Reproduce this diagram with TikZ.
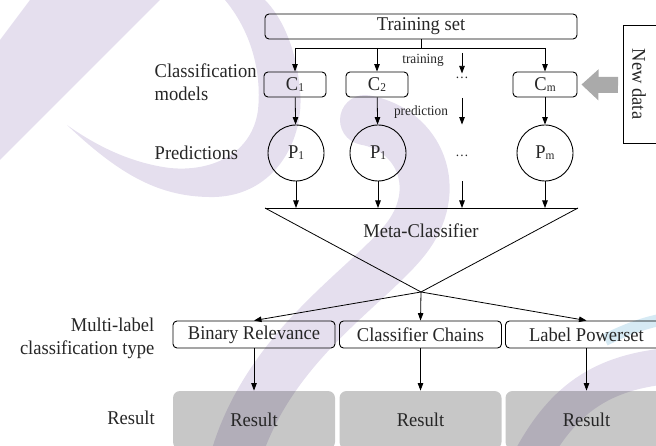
\documentclass[tikz,border=0pt]{standalone}
\usepackage{fontspec}
\setmainfont{Liberation Serif}[FakeStretch=0.95]
\usetikzlibrary{arrows.meta}
\definecolor{wmark}{RGB}{229,223,238}
\definecolor{wcyan}{RGB}{214,234,244}
\definecolor{blockgray}{RGB}{170,170,170}
\newcommand{\idx}[1]{\raisebox{-1pt}{\fontsize{12}{12}\selectfont #1}}
\tikzset{
  box/.style={draw, rounded corners=4pt, line width=0.9pt, inner sep=0pt, minimum height=25pt},
  typebox/.style={box, minimum width=162pt, minimum height=27pt},
  resbox/.style={fill=black, fill opacity=0.22, text opacity=1, rounded corners=7pt, minimum width=162pt, minimum height=58pt},
  pred/.style={draw, circle, line width=0.9pt, minimum size=56pt, inner sep=0pt},
  small/.style={font=\fontsize{14}{16}\selectfont},
  newarrow/.style={blockgray, line width=16pt, -{Triangle[length=17pt,width=30pt]}},
}

\begin{document}
\begin{tikzpicture}[x=1pt, y=-1pt, line width=0.8pt, >={Triangle[length=7.5pt,width=5.5pt]},
    font=\fontsize{19.5}{23}\selectfont, text=black!85] %[scale=0.8]
    \useasboundingbox (0,0) rectangle (656,446);
    % watermark
    \fill[wmark] (30,0) -- (160,0) -- (0,160) -- (0,40) -- cycle;
    \fill[wmark] (67,125) .. controls (120,175) and (160,198) .. (215,197)
      .. controls (275,195) and (305,140) .. (300,90) .. controls (296,45) and (280,15) .. (265,0)
      -- (225,0) .. controls (250,30) and (262,70) .. (258,110)
      .. controls (252,155) and (210,172) .. (170,168) .. controls (130,163) and (95,145) .. (67,125) -- cycle;
    \draw[wmark, line width=50pt, line cap=round] (365,120) .. controls (420,130) and (445,190) .. (405,240)
      .. controls (365,290) and (262,350) .. (232,470);
    \draw[wmark, line width=36pt] (525,470) .. controls (560,400) and (600,370) .. (680,365);
    \draw[wcyan, line width=12pt] (605,340) .. controls (625,330) and (645,322) .. (670,318);

    \node[box, minimum width=312pt] (ts) at (421,26.5) {Training set};
    \node[box, minimum width=62pt] (c1) at (295,84.5) {C\idx{1}};
    \node[box, minimum width=62pt] (c2) at (377,84.5) {C\idx{2}};
    \node[box, minimum width=64pt] (cm) at (545,84.5) {C\idx{m}};
    \node[small] (cd) at (462,78) {\ldots};
    \node[small] (trlab) at (423,60) {training};
    \node[small] (prlab) at (421,112) {prediction};
    \node[pred] (p1) at (296,153) {P\idx{1}};
    \node[pred] (p2) at (378,153) {P\idx{1}};
    \node[small] (pd) at (462,156) {\ldots};
    \node[pred] (pm) at (545,153) {P\idx{m}};
    \node (mc) at (421,231) {Meta-Classifier};
    \node[typebox] (br) at (254,334.5) {Binary Relevance};
    \node[typebox] (cc) at (420.5,334.5) {Classifier Chains};
    \node[typebox] (lp) at (586.5,334.5) {Label Powerset};
    \node[resbox] (r1) at (254,420) {Result};
    \node[resbox] (r2) at (420.5,420) {Result};
    \node[resbox] (r3) at (586.5,420) {Result};

    \node[anchor=west, align=left] (cml) at (151,82.5) {Classification\\models};
    \node[anchor=west] (pl) at (151,153) {Predictions};
    \node[anchor=east, align=right] (tyl) at (158,338.5) {Multi-label\\classification type};
    \node (rl) at (131,418) {Result};

    \node[rotate=-90] (nd) at (639,84) {New data};
    \draw[line width=0.9pt] (690,25) -- (623,25) -- (623,143) -- (690,143);
    \coordinate (ndw) at (618,85);
    \draw[newarrow, shorten >=4pt] (ndw) -- (cm.east);

    \coordinate (b0) at (421,48);
    \coordinate (b1) at (295,48);
    \coordinate (bm) at (545,48);
    \coordinate (bd) at (462,53);
    \coordinate (pdt) at (462,98);
    \draw (ts) -- (b0);
    \draw (b1) -- (bm);
    \draw [->] (b1) -- (c1);
    \draw [->] (b0 -| c2) -- (c2);
    \draw [->] (bm) -- (cm);
    \draw [->] (bd) -- (cd);
    \draw [->] (c1) -- (p1);
    \draw [->] (c2) -- (p2);
    \draw [->] (cm) -- (pm);
    \draw [->] (pdt) -- (pdt |- p1.north);

    \coordinate (tl) at (265,208);
    \coordinate (tr) at (578,208);
    \coordinate (x) at (421,292);
    \draw (tl) -- (tr);
    \draw (tl) -- (x);
    \draw (tr) -- (x);
    \draw [->] (p1) -- (p1 |- tl);
    \draw [->] (p2) -- (p2 |- tl);
    \draw [->] (pd |- p1.south) -- (pd |- tl);
    \draw [->] (pm) -- (pm |- tl);
    \draw [->] (x) -- (br.north);
    \draw [->] (x) -- (cc.north);
    \draw [->] (x) -- (lp.north);
    \draw [->] (br) -- (r1);
    \draw [->] (cc) -- (r2);
    \draw [->] (lp) -- (r3);
  \end{tikzpicture}
\end{document}
